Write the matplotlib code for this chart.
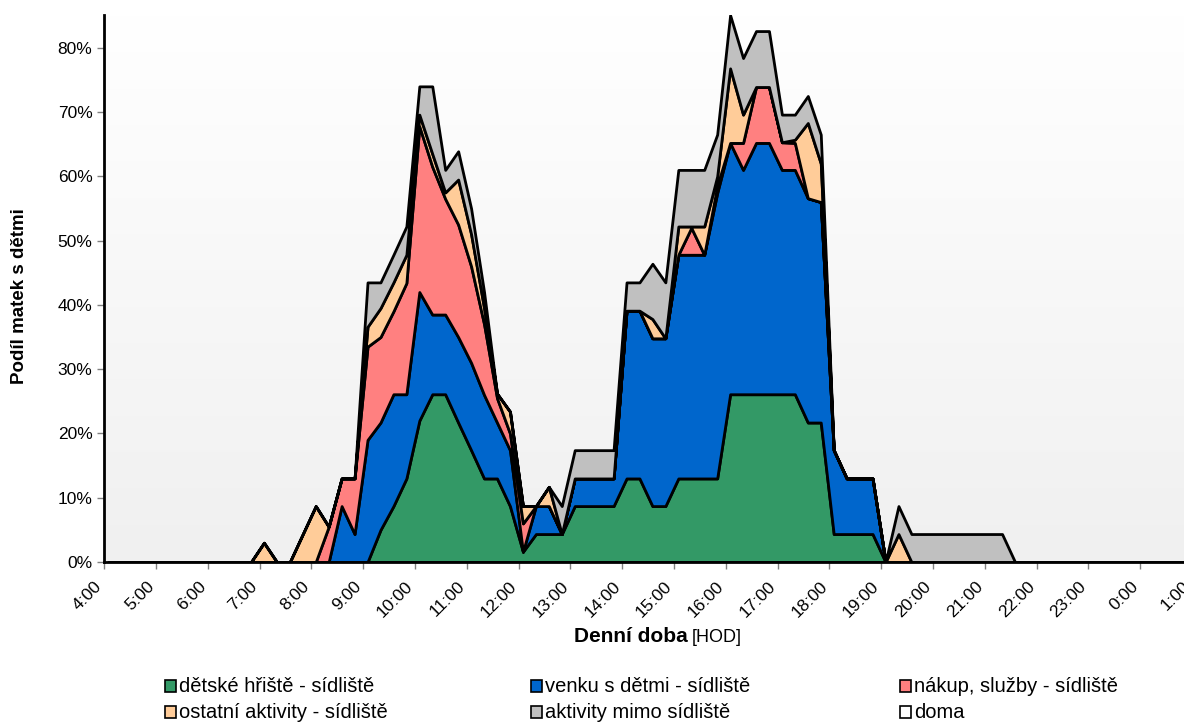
import matplotlib
matplotlib.use("Agg")
import matplotlib.pyplot as plt
import numpy as np
from matplotlib.colors import LinearSegmentedColormap
from matplotlib.patches import Rectangle
from matplotlib.ticker import PercentFormatter

plt.rcParams['font.family'] = ['Liberation Sans', 'DejaVu Sans']

# 15-minute slots starting 4:05 (minutes after midnight)
minutes = np.arange(4 * 60 + 5, 25 * 60, 15)

# share of mothers (%) per slot, 84 slots (4:05 ... 0:50)
detske_hriste = [
    0, 0, 0, 0, 0, 0, 0, 0, 0, 0, 0, 0,
    0, 0, 0, 0, 0, 0, 0, 0, 0, 5, 8.7, 13,
    22, 26.1, 26.1, 21.7, 17.4, 13, 13, 8.7, 1.6, 4.35, 4.35, 4.35,
    8.7, 8.7, 8.7, 8.7, 13, 13, 8.7, 8.7, 13, 13, 13, 13,
    26.1, 26.1, 26.1, 26.1, 26.1, 26.1, 21.7, 21.7, 4.35, 4.35, 4.35, 4.35,
    0, 0, 0, 0, 0, 0, 0, 0, 0, 0, 0, 0,
    0, 0, 0, 0, 0, 0, 0, 0, 0, 0, 0, 0,
]
venku = [
    0, 0, 0, 0, 0, 0, 0, 0, 0, 0, 0, 0,
    0, 0, 0, 0, 0, 0, 8.7, 4.35, 19, 16.7, 17.4, 13.1,
    20, 12.4, 12.4, 13.3, 13.6, 13, 8.7, 8.7, 0, 4.35, 4.35, 0,
    4.3, 4.3, 4.3, 4.3, 26.1, 26.1, 26.1, 26.1, 34.8, 34.8, 34.8, 44.4,
    39.1, 34.9, 39.1, 39.1, 34.9, 34.9, 34.9, 34.3, 13.05, 8.65, 8.65, 8.65,
    0, 0, 0, 0, 0, 0, 0, 0, 0, 0, 0, 0,
    0, 0, 0, 0, 0, 0, 0, 0, 0, 0, 0, 0,
]
nakup = [
    0, 0, 0, 0, 0, 0, 0, 0, 0, 0, 0, 0,
    0, 0, 0, 0, 0, 5.5, 4.3, 8.65, 14.5, 13.3, 12.9, 17.3,
    25.8, 23, 18, 17.5, 15, 11, 3.8, 2.6, 4.4, 0, 0, 0,
    0, 0, 0, 0, 0, 0, 0, 0, 0, 4.2, 0, 1.1,
    0, 4.2, 8.7, 8.7, 4.3, 4.2, 0, 0, 0, 0, 0, 0,
    0, 0, 0, 0, 0, 0, 0, 0, 0, 0, 0, 0,
    0, 0, 0, 0, 0, 0, 0, 0, 0, 0, 0, 0,
]
ostatni = [
    0, 0, 0, 0, 0, 0, 0, 0, 0, 0, 0, 0,
    3, 0, 0, 4.35, 8.7, 0, 0, 0, 3.1, 4.5, 4.5, 4.4,
    1.8, 2, 1, 7, 5, 2.5, 0.7, 3.4, 2.7, 0, 3, 0,
    0, 0, 0, 0, 0, 0, 3, 0, 4.4, 0.2, 4.4, 1.5,
    11.6, 4.4, 0, 0, 0, 0.5, 11.7, 6, 0, 0, 0, 0,
    0, 4.35, 0, 0, 0, 0, 0, 0, 0, 0, 0, 0,
    0, 0, 0, 0, 0, 0, 0, 0, 0, 0, 0, 0,
]
mimo = [
    0, 0, 0, 0, 0, 0, 0, 0, 0, 0, 0, 0,
    0, 0, 0, 0, 0, 0, 0, 0, 6.9, 4, 4.3, 4.4,
    4.4, 10.5, 3.5, 4.4, 4, 2.5, 0, 0, 0, 0, 0, 4.35,
    4.4, 4.4, 4.4, 4.4, 4.4, 4.4, 8.6, 8.7, 8.8, 8.8, 8.8, 6.5,
    8.3, 8.8, 8.7, 8.7, 4.3, 3.9, 4.2, 4.5, 0, 0, 0, 0,
    0, 4.35, 4.35, 4.35, 4.35, 4.35, 4.35, 4.35, 4.35, 4.35, 0, 0,
    0, 0, 0, 0, 0, 0, 0, 0, 0, 0, 0, 0,
]

labels = ['dětské hřiště - sídliště', 'venku s dětmi - sídliště', 'nákup, služby - sídliště',
          'ostatní aktivity - sídliště', 'aktivity mimo sídliště', 'doma']
colors = ['#339966', '#0066CC', '#FF8080', '#FFCC99', '#C0C0C0', '#FFFFFF']
hour_ticks = np.arange(4, 26)
hour_labels = [f"{h % 24}:00" for h in hour_ticks]

W, H = 1184, 724
fig = plt.figure(figsize=(W / 100, H / 100), dpi=100)
ax = fig.add_axes([104.2 / W, 1 - 562 / H, (1192 - 104.2) / W, (562 - 15) / H])

ymax = 0.851
t = minutes / 60.0
series = [np.array(s) / 100 for s in (detske_hriste, venku, nakup, ostatni, mimo)]

# background gradient like the original chart
cmap = LinearSegmentedColormap.from_list('bg', ['#F0F0F0', '#FFFFFF'])
grad = np.linspace(0, 1, 256)[:, None]
ax.imshow(grad, extent=[4, 25, 0, ymax], aspect='auto', cmap=cmap, origin='lower', zorder=0)

ax.stackplot(t, *series, colors=colors[:5], edgecolor='black', linewidth=2.0, zorder=2)

ax.set_xlim(4, 25)
ax.set_ylim(0, ymax)
ax.set_xticks(hour_ticks)
ax.set_xticklabels([])
# rotated hour labels, nudged a little left of the tick like in the original
for h, lab in zip(hour_ticks, hour_labels):
    ax.annotate(lab, xy=(h, 0), xycoords=('data', 'axes fraction'), xytext=(-7, -12),
                textcoords='offset points', rotation=45, ha='right', va='top',
                rotation_mode='anchor', fontsize=12.5, annotation_clip=False)
ax.set_yticks(np.arange(0, 0.81, 0.1))
ax.yaxis.set_major_formatter(PercentFormatter(1.0, decimals=0))
ax.tick_params(axis='y', labelsize=12.5, length=5, width=1, color='#808080')
ax.tick_params(axis='x', length=5, width=1, color='#808080')
for s in ['top', 'right']:
    ax.spines[s].set_visible(False)
for s in ['left', 'bottom']:
    ax.spines[s].set_linewidth(2)
    ax.spines[s].set_zorder(5)

fig.text(20 / W, 1 - 296 / H, 'Podíl matek s dětmi', rotation=90, ha='center', va='center',
         fontsize=13.5, fontweight='bold')
fig.text(688 / W, 1 - 637 / H, 'Denní doba', ha='right', va='center', fontsize=15, fontweight='bold')
fig.text(692 / W, 1 - 637 / H, '[HOD]', ha='left', va='center', fontsize=13)

# legend laid out like the original: 3 columns, 2 rows
legend_x = [165, 531, 900]
legend_y = [686, 712]
for i, (lab, col) in enumerate(zip(labels, colors)):
    r, c = divmod(i, 3)
    x0, y0 = legend_x[c], legend_y[r]
    fig.patches.append(Rectangle((x0 / W, 1 - (y0 + 6) / H), 11 / W, 12 / H,
                                 facecolor=col, edgecolor='black', linewidth=1.2,
                                 transform=fig.transFigure, figure=fig))
    fig.text((x0 + 14) / W, 1 - y0 / H, lab, ha='left', va='center', fontsize=14.5)

fig.savefig('out.png', dpi=100)
